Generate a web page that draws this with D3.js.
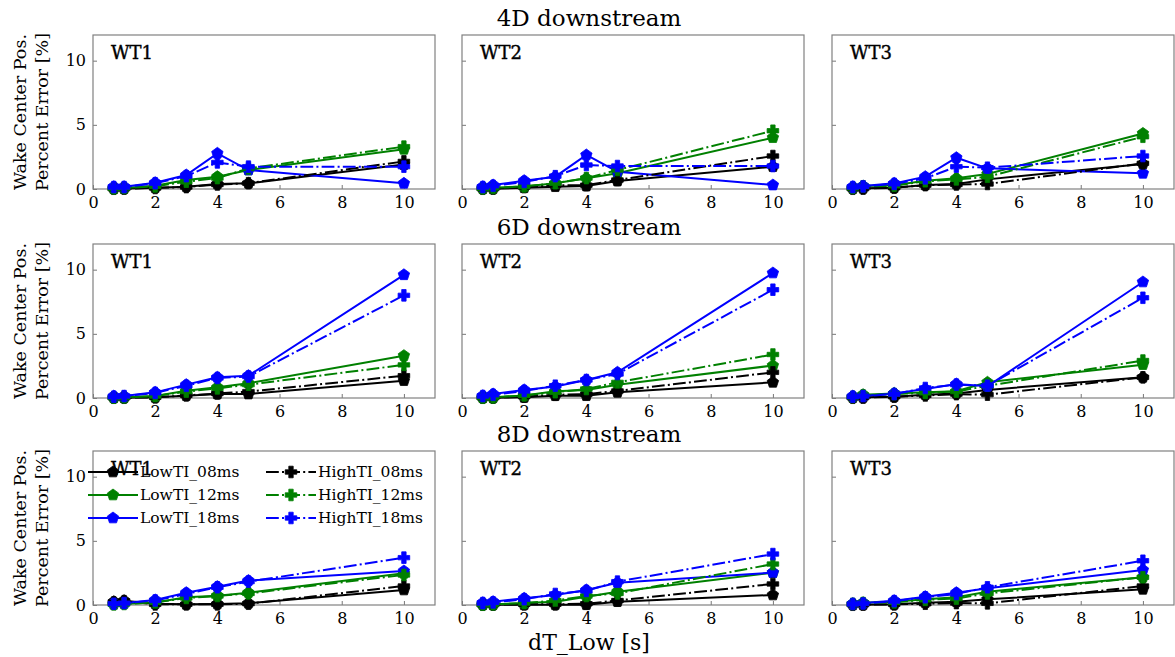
<!DOCTYPE html>
<html>
<head>
<meta charset="utf-8">
<script src="https://cdn.jsdelivr.net/npm/d3@7"></script>
<style>
  body { margin: 0; background: #fff; }
  svg { display: block; }
  text { font-family: "DejaVu Serif", serif; fill: #000; }
</style>
</head>
<body>
<svg id="chart" width="1175" height="657"></svg>
<script>
// dT_Low values [s]
const dtLow = [0.67, 1, 2, 3, 4, 5, 10];
const distances = ["4D downstream", "6D downstream", "8D downstream"];
const turbines = ["WT1", "WT2", "WT3"];
const seriesNames = ["LowTI_08ms", "LowTI_12ms", "LowTI_18ms", "HighTI_08ms", "HighTI_12ms", "HighTI_18ms"];
const yTicks = [0, 5, 10];
const xTicks = [0, 2, 4, 6, 8, 10];

// Wake center position percent error [%], one row per turbine (WT1, WT2, WT3)
const lowTI08_4D = [
  [0.02, 0.03, 0.10, 0.18, 0.39, 0.44, 1.90],
  [0.02, 0.02, 0.10, 0.18, 0.23, 0.62, 1.74],
  [0.03, 0.05, 0.10, 0.31, 0.39, 0.75, 1.95]];
const lowTI12_4D = [
  [0.05, 0.08, 0.25, 0.70, 0.96, 1.48, 3.09],
  [0.05, 0.10, 0.20, 0.44, 0.83, 1.22, 4.00],
  [0.10, 0.23, 0.30, 0.65, 0.83, 1.17, 4.33]];
const lowTI18_4D = [
  [0.18, 0.18, 0.49, 1.09, 2.78, 1.48, 0.44],
  [0.18, 0.31, 0.65, 0.96, 2.65, 1.35, 0.31],
  [0.18, 0.23, 0.44, 0.96, 2.44, 1.61, 1.22]];
const highTI08_4D = [
  [0.02, 0.03, 0.08, 0.15, 0.35, 0.45, 2.15],
  [0.02, 0.03, 0.15, 0.30, 0.30, 0.70, 2.57],
  [0.02, 0.03, 0.10, 0.30, 0.35, 0.39, 2.00]];
const highTI12_4D = [
  [0.05, 0.08, 0.20, 0.57, 0.85, 1.60, 3.30],
  [0.05, 0.08, 0.20, 0.45, 0.85, 1.48, 4.54],
  [0.08, 0.20, 0.25, 0.60, 0.75, 0.95, 4.07]];
const highTI18_4D = [
  [0.15, 0.15, 0.45, 1.00, 2.07, 1.74, 1.74],
  [0.15, 0.25, 0.55, 1.00, 1.87, 1.79, 1.79],
  [0.15, 0.20, 0.40, 0.83, 1.74, 1.66, 2.57]];

const lowTI08_6D = [
  [0.02, 0.02, 0.05, 0.18, 0.31, 0.31, 1.35],
  [0.02, 0.02, 0.05, 0.18, 0.18, 0.44, 1.22],
  [0.03, 0.05, 0.10, 0.26, 0.36, 0.63, 1.61]];
const lowTI12_6D = [
  [0.03, 0.05, 0.15, 0.57, 0.83, 1.15, 3.30],
  [0.03, 0.05, 0.20, 0.52, 0.63, 1.04, 2.53],
  [0.10, 0.26, 0.36, 0.44, 0.52, 1.22, 2.60]];
const lowTI18_6D = [
  [0.15, 0.15, 0.44, 1.04, 1.61, 1.74, 9.60],
  [0.18, 0.31, 0.63, 0.89, 1.41, 2.00, 9.74],
  [0.15, 0.15, 0.36, 0.70, 1.09, 0.91, 9.04]];
const highTI08_6D = [
  [0.02, 0.02, 0.05, 0.20, 0.35, 0.50, 1.74],
  [0.02, 0.03, 0.10, 0.25, 0.30, 0.55, 2.00],
  [0.02, 0.03, 0.10, 0.20, 0.30, 0.26, 1.61]];
const highTI12_6D = [
  [0.03, 0.05, 0.15, 0.50, 0.75, 1.04, 2.58],
  [0.03, 0.05, 0.20, 0.45, 0.70, 1.22, 3.39],
  [0.08, 0.20, 0.30, 0.40, 0.50, 0.95, 2.92]];
const highTI18_6D = [
  [0.10, 0.15, 0.40, 0.95, 1.56, 1.67, 8.00],
  [0.15, 0.25, 0.55, 0.96, 1.40, 1.87, 8.44],
  [0.10, 0.15, 0.30, 0.78, 1.04, 0.96, 7.81]];

const lowTI08_8D = [
  [0.26, 0.34, 0.10, 0.05, 0.08, 0.13, 1.17],
  [0.02, 0.02, 0.02, 0.02, 0.02, 0.26, 0.78],
  [0.02, 0.02, 0.05, 0.18, 0.26, 0.44, 1.22]];
const lowTI12_8D = [
  [0.05, 0.10, 0.20, 0.60, 0.73, 0.96, 2.47],
  [0.03, 0.05, 0.15, 0.26, 0.65, 1.04, 2.52],
  [0.10, 0.18, 0.25, 0.44, 0.60, 1.04, 2.16]];
const lowTI18_8D = [
  [0.15, 0.15, 0.39, 0.96, 1.43, 1.90, 2.65],
  [0.18, 0.26, 0.52, 0.78, 1.17, 1.74, 2.52],
  [0.10, 0.15, 0.34, 0.65, 0.96, 1.30, 2.73]];
const highTI08_8D = [
  [0.20, 0.30, 0.05, 0.05, 0.05, 0.10, 1.48],
  [0.02, 0.03, 0.05, 0.05, 0.10, 0.35, 1.64],
  [0.02, 0.03, 0.05, 0.10, 0.15, 0.13, 1.48]];
const highTI12_8D = [
  [0.05, 0.08, 0.20, 0.55, 0.70, 0.90, 2.34],
  [0.03, 0.05, 0.15, 0.35, 0.70, 0.90, 3.19],
  [0.08, 0.15, 0.20, 0.40, 0.50, 0.90, 2.16]];
const highTI18_8D = [
  [0.10, 0.15, 0.35, 0.86, 1.38, 1.82, 3.69],
  [0.15, 0.20, 0.45, 0.86, 1.10, 1.82, 3.97],
  [0.08, 0.12, 0.30, 0.60, 0.86, 1.38, 3.45]];

// series data grouped by distance, in the same order as seriesNames
const seriesByDistance = [
  [lowTI08_4D, lowTI12_4D, lowTI18_4D, highTI08_4D, highTI12_4D, highTI18_4D],
  [lowTI08_6D, lowTI12_6D, lowTI18_6D, highTI08_6D, highTI12_6D, highTI18_6D],
  [lowTI08_8D, lowTI12_8D, lowTI18_8D, highTI08_8D, highTI12_8D, highTI18_8D]];

// ---- styling ----
const colors = ["#000000", "#008000", "#0000ff", "#000000", "#008000", "#0000ff"];
const isHigh = [false, false, false, true, true, true];
const dashDot = "12.8,3.2,2,3.2";

// pentagon (point up) and filled-plus marker paths
function pentagonPath(r) {
  const pts = d3.range(5).map(i => {
    const a = -Math.PI / 2 + i * 2 * Math.PI / 5;
    return [r * Math.cos(a), r * Math.sin(a)];
  });
  return "M" + pts.map(p => p.join(",")).join("L") + "Z";
}
function plusPath(s, a) {
  return `M${-a},${-s}H${a}V${-a}H${s}V${a}H${a}V${s}H${-a}V${a}H${-s}V${-a}H${-a}Z`;
}
const markerLow = pentagonPath(6);
const markerHigh = plusPath(5.8, 2.2);

// ---- layout ----
const panelW = 342, panelH = 154;
const colLeft = [93, 462, 832];
const rowTop = [35, 244, 451];

const svg = d3.select("#chart");
svg.append("rect").attr("width", 1175).attr("height", 657).attr("fill", "#fff");

distances.forEach((dist, r) => {
  const top = rowTop[r];
  // row title
  svg.append("text")
    .attr("x", 589).attr("y", top - 9)
    .attr("text-anchor", "middle")
    .attr("font-size", 23)
    .text(dist);

  // y label (two lines)
  const cy = top + panelH / 2;
  const yl = svg.append("text")
    .attr("transform", `translate(26,${cy}) rotate(-90)`)
    .attr("text-anchor", "middle")
    .attr("font-size", 17.5);
  yl.append("tspan").attr("x", 0).attr("dy", 0).text("Wake Center Pos.");
  yl.append("tspan").attr("x", 0).attr("dy", 22).text("Percent Error [%]");

  turbines.forEach((wt, c) => {
    const left = colLeft[c];
    const x = d3.scaleLinear().domain([0, 11]).range([left, left + panelW]);
    const y = d3.scaleLinear().domain([0, 12]).range([top + panelH, top]);
    const g = svg.append("g");

    // axes: inward ticks, labels outside
    const xAxis = g.append("g")
      .attr("transform", `translate(0,${top + panelH})`)
      .call(d3.axisBottom(x).tickValues(xTicks).tickSizeInner(-4).tickSizeOuter(0).tickPadding(8));
    xAxis.select(".domain").remove();
    xAxis.selectAll(".tick line").attr("stroke", "#777");
    xAxis.selectAll(".tick text").attr("font-family", "DejaVu Serif").attr("font-size", 16).attr("fill", "#000");

    const yAxis = g.append("g")
      .attr("transform", `translate(${left},0)`)
      .call(d3.axisLeft(y).tickValues(yTicks).tickSizeInner(-4).tickSizeOuter(0).tickPadding(7));
    yAxis.select(".domain").remove();
    yAxis.selectAll(".tick line").attr("stroke", "#777");
    yAxis.selectAll(".tick text")
      .attr("font-family", "DejaVu Serif").attr("font-size", 16).attr("fill", "#000")
      .text(c === 0 ? (d => d) : "");

    // frame
    g.append("rect")
      .attr("x", left).attr("y", top)
      .attr("width", panelW).attr("height", panelH)
      .attr("fill", "none").attr("stroke", "#808080").attr("stroke-width", 1.2);

    // series
    const line = d3.line().x((d, i) => x(dtLow[i])).y(d => y(d));
    seriesByDistance[r].forEach((arr, s) => {
      const vals = arr[c];
      const sg = g.append("g");
      sg.append("path")
        .attr("d", line(vals))
        .attr("fill", "none")
        .attr("stroke", colors[s])
        .attr("stroke-width", 2)
        .attr("stroke-dasharray", isHigh[s] ? dashDot : null);
      sg.selectAll("path.mk").data(vals).join("path")
        .attr("class", "mk")
        .attr("transform", (d, i) => `translate(${x(dtLow[i])},${y(d)})`)
        .attr("d", isHigh[s] ? markerHigh : markerLow)
        .attr("fill", colors[s])
        .attr("stroke", colors[s])
        .attr("stroke-width", 0.8);
    });

    // turbine label
    g.append("text")
      .attr("x", left + 18).attr("y", top + 23.5)
      .attr("font-size", 18)
      .attr("stroke", "#000").attr("stroke-width", 0.4)
      .text(wt);

    // legend in the bottom-left panel
    if (r === 2 && c === 0) {
      const lg = g.append("g");
      const colX = [88, 266];
      const rowY = [472, 495, 518];
      seriesNames.forEach((name, s) => {
        const lx = colX[Math.floor(s / 3)];
        const ly = rowY[s % 3];
        lg.append("line")
          .attr("x1", lx).attr("x2", lx + 50)
          .attr("y1", ly).attr("y2", ly)
          .attr("stroke", colors[s]).attr("stroke-width", 2)
          .attr("stroke-dasharray", isHigh[s] ? dashDot : null);
        lg.append("path")
          .attr("transform", `translate(${lx + 25},${ly})`)
          .attr("d", isHigh[s] ? markerHigh : markerLow)
          .attr("fill", colors[s]).attr("stroke", colors[s]).attr("stroke-width", 0.8);
        lg.append("text")
          .attr("x", lx + 52).attr("y", ly)
          .attr("dy", "0.35em")
          .attr("font-size", 15.5)
          .text(name);
      });
    }
  });
});

// shared x label
svg.append("text")
  .attr("x", 589).attr("y", 650)
  .attr("text-anchor", "middle")
  .attr("font-size", 22)
  .text("dT_Low [s]");
</script>
</body>
</html>
